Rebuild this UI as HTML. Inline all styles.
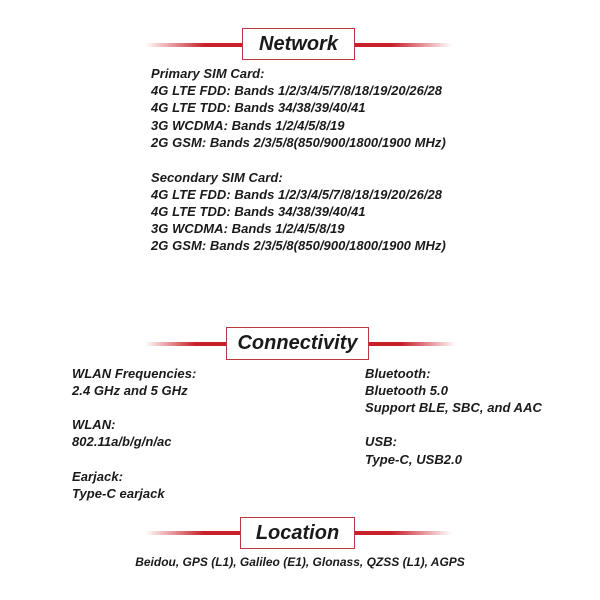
<!DOCTYPE html>
<html><head><style>
body{margin:0;width:600px;height:600px;background:#fff;position:relative;overflow:hidden;font-family:"Liberation Sans",sans-serif;}
.t{position:absolute;font-weight:bold;font-style:italic;font-size:12px;color:#1a1a1a;white-space:nowrap;line-height:16px;letter-spacing:0}
.n{font-size:13px;letter-spacing:0.05px}
.line{position:absolute;height:4px;background:linear-gradient(90deg,rgba(200,30,40,0),#c8202a 60%,#c8202a 100%);}
.line.r{background:linear-gradient(270deg,rgba(200,30,40,0),#c8202a 60%,#c8202a 100%);}
.box{position:absolute;border:1.5px solid #b83a40;background:#fff;box-sizing:border-box;text-align:center;font-weight:bold;font-style:italic;font-size:20px;color:#1a1a1a;}
</style></head><body>
<div class="line" style="left:145px;top:43px;width:100px"></div>
<div class="line r" style="left:352px;top:43px;width:100px"></div>
<div class="box" style="left:242px;top:28px;width:113px;height:32px;line-height:30px">Network</div>

<div class="t n" style="left:151px;top:66px">Primary SIM Card:</div>
<div class="t n" style="left:151px;top:83px">4G LTE FDD: Bands 1/2/3/4/5/7/8/18/19/20/26/28</div>
<div class="t n" style="left:151px;top:100px">4G LTE TDD: Bands 34/38/39/40/41</div>
<div class="t n" style="left:151px;top:118px">3G WCDMA: Bands 1/2/4/5/8/19</div>
<div class="t n" style="left:151px;top:135px">2G GSM: Bands 2/3/5/8(850/900/1800/1900 MHz)</div>
<div class="t n" style="left:151px;top:170px">Secondary SIM Card:</div>
<div class="t n" style="left:151px;top:187px">4G LTE FDD: Bands 1/2/3/4/5/7/8/18/19/20/26/28</div>
<div class="t n" style="left:151px;top:204px">4G LTE TDD: Bands 34/38/39/40/41</div>
<div class="t n" style="left:151px;top:221px">3G WCDMA: Bands 1/2/4/5/8/19</div>
<div class="t n" style="left:151px;top:238px">2G GSM: Bands 2/3/5/8(850/900/1800/1900 MHz)</div>

<div class="line" style="left:145px;top:342px;width:84px"></div>
<div class="line r" style="left:366px;top:342px;width:90px"></div>
<div class="box" style="left:226px;top:327px;width:143px;height:33px;line-height:31px">Connectivity</div>

<div class="t n" style="left:72px;top:366px">WLAN Frequencies:</div>
<div class="t n" style="left:72px;top:383px">2.4 GHz and 5 GHz</div>
<div class="t n" style="left:72px;top:417px">WLAN:</div>
<div class="t n" style="left:72px;top:434px">802.11a/b/g/n/ac</div>
<div class="t n" style="left:72px;top:469px">Earjack:</div>
<div class="t n" style="left:72px;top:486px">Type-C earjack</div>
<div class="t n" style="left:365px;top:366px">Bluetooth:</div>
<div class="t n" style="left:365px;top:383px">Bluetooth 5.0</div>
<div class="t n" style="left:365px;top:400px">Support BLE, SBC, and AAC</div>
<div class="t n" style="left:365px;top:434px">USB:</div>
<div class="t n" style="left:365px;top:452px">Type-C, USB2.0</div>

<div class="line" style="left:145px;top:531px;width:98px"></div>
<div class="line r" style="left:352px;top:531px;width:100px"></div>
<div class="box" style="left:240px;top:517px;width:115px;height:32px;line-height:30px">Location</div>
<div class="t" style="left:0;width:600px;text-align:center;top:554px">Beidou, GPS (L1), Galileo (E1), Glonass, QZSS (L1), AGPS</div>
</body></html>
